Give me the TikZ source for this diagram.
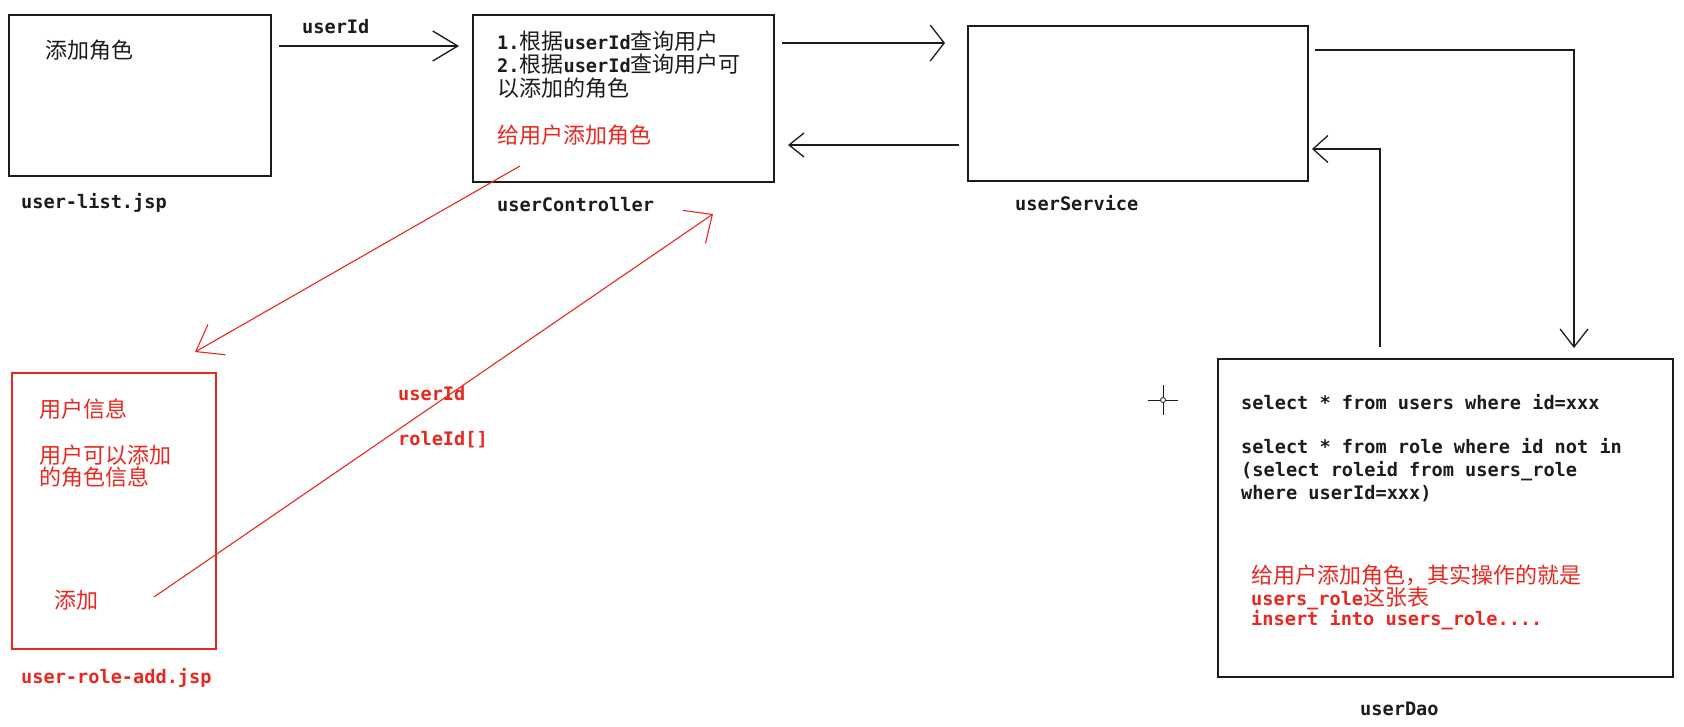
\documentclass[tikz,border=0pt]{standalone}
\usepackage{fontspec}
\usetikzlibrary{arrows.meta}
\newfontfamily\cnfont{Noto Sans CJK SC}
\newfontfamily\codefont{DejaVu Sans Mono}
\newcommand\zh[1]{{\fontsize{22}{23}\cnfont\mdseries #1}}
\definecolor{ink}{RGB}{28,28,28}
\definecolor{redink}{RGB}{232,40,32}
\tikzset{
  box/.style={draw=ink, line width=1.6pt, inner sep=0pt, outer sep=0pt, anchor=north west},
  redbox/.style={box, draw=redink, line width=1.3pt},
  code/.style={anchor=base west, inner sep=0pt, text=ink, font=\fontsize{18.6}{23}\codefont\bfseries},
  cn/.style={anchor=base west, inner sep=0pt, text=ink, font=\fontsize{22}{23}\cnfont},
  flow/.style={draw=ink, line width=1.3pt},
  redflow/.style={draw=redink, line width=1.1pt},
}
\begin{document}
\begin{tikzpicture}[x=1pt, y=-1pt]
\fill[white] (0,0) rectangle (1684,726);
\useasboundingbox (0,0) rectangle (1684,726);

% boxes
\node[box, minimum width=262pt, minimum height=161pt] (list) at (9,15) {};
\node[box, minimum width=301pt, minimum height=167pt] (ctrl) at (473,15) {};
\node[box, minimum width=340pt, minimum height=155pt] (svc) at (968,26) {};
\node[box, minimum width=455pt, minimum height=318pt] (dao) at (1218,359) {};
\node[redbox, minimum width=204pt, minimum height=276pt] (roleadd) at (12,373) {};

% user-list.jsp
\node[cn] (listtxt) at (45,58) {添加角色};
\node[code] (listlbl) at (21,208) {user-list.jsp};
\node[code] (uidlbl) at (302,33) {userId};

% userController
\node[code] (c1) at (497,49) {1.\zh{根据}userId\zh{查询用户}};
\node[code] (c2) at (497,72) {2.\zh{根据}userId\zh{查询用户可}};
\node[cn] (c3) at (497,96) {以添加的角色};
\node[cn, text=redink] (c4) at (497,143) {给用户添加角色};
\node[code] (ctrllbl) at (497,211) {userController};

% userService
\node[code] (svclbl) at (1015,210) {userService};

% userDao
\node[code] (q1) at (1241,409) {select * from users where id=xxx};
\node[code] (q2) at (1241,453) {select * from role where id not in};
\node[code] (q3) at (1241,476) {(select roleid from users\_role};
\node[code] (q4) at (1241,499) {where userId=xxx)};
\node[cn, text=redink] (r1) at (1251,583) {给用户添加角色，其实操作的就是};
\node[code, text=redink] (r2) at (1251,605) {users\_role\zh{这张表}};
\node[code, text=redink] (r3) at (1251,625) {insert into users\_role....};
\node[code] (daolbl) at (1360,715) {userDao};

% user-role-add.jsp
\node[cn, text=redink] (a1) at (39,417) {用户信息};
\node[cn, text=redink] (a2) at (39,463) {用户可以添加};
\node[cn, text=redink] (a3) at (39,485) {的角色信息};
\node[cn, text=redink] (a4) at (54,608) {添加};
\node[code, text=redink] (addlbl) at (21,683) {user-role-add.jsp};
\node[code, text=redink] (p1) at (398,400) {userId};
\node[code, text=redink] (p2) at (398,445) {roleId[]};

% connector end points
\coordinate (listout) at (279,46);
\coordinate (ctrlin) at (459,46);
\coordinate (ctrlout) at (782,43);
\coordinate (svcin) at (945,43);
\coordinate (svcback) at (959,145);
\coordinate (ctrlback) at (788,145);
\coordinate (svcdown) at (1315,50);
\coordinate (daoin) at (1574,348);
\coordinate (daoout) at (1380,347);
\coordinate (svcup) at (1312,149);
\coordinate (ctrlred) at (520,166);
\coordinate (addin) at (195,352);
\coordinate (addbtn) at (154,597);
\coordinate (ctrlredin) at (713,214);

% black flow
\draw[flow, -{Straight Barb[length=25pt, width=30pt]}] (listout) -- (ctrlin);
\draw[flow, -{Straight Barb[length=14pt, width=36pt]}] (ctrlout) -- (svcin);
\draw[flow, -{Straight Barb[length=15pt, width=24pt]}] (svcback) -- (ctrlback);
\draw[flow, -{Straight Barb[length=18pt, width=28pt]}] (svcdown) -| (daoin);
\draw[flow, -{Straight Barb[length=15pt, width=27pt]}] (daoout) |- (svcup);

% red flow
\draw[redflow, -{Straight Barb[length=24pt, width=35pt]}] (ctrlred) -- (addin);
\draw[redflow, -{Straight Barb[length=22pt, width=40pt]}] (addbtn) -- (ctrlredin);

% pointer cross
\draw[ink, line width=1pt] (1148,400) -- (1178,400) (1163,385) -- (1163,415);
\draw[ink, line width=0.8pt, fill=white] (1163,400) circle (2.5pt);
\end{tikzpicture}
\end{document}
